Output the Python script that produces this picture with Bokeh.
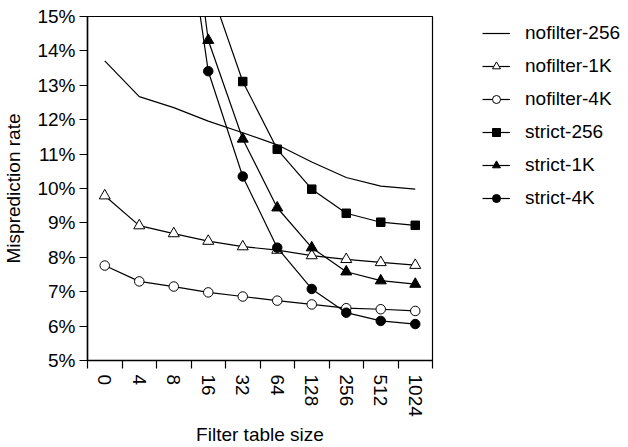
from bokeh.plotting import figure
from bokeh.layouts import row
from bokeh.models import FixedTicker, Legend, LegendItem, Range1d
from bokeh.embed import file_html
from bokeh.resources import INLINE

sizes = ["0", "4", "8", "16", "32", "64", "128", "256", "512", "1024"]
yticks = [5, 6, 7, 8, 9, 10, 11, 12, 13, 14, 15]

nofilter_256 = [13.71, 12.67, 12.35, 11.96, 11.62, 11.27, 10.77, 10.32, 10.07, 9.98]
nofilter_1k = [9.79, 8.92, 8.69, 8.47, 8.31, 8.21, 8.05, 7.94, 7.85, 7.77]
nofilter_4k = [7.76, 7.30, 7.15, 6.98, 6.86, 6.74, 6.63, 6.52, 6.49, 6.44]

strict_256_sizes = ["16", "32", "64", "128", "256", "512", "1024"]
strict_256 = [16.0, 13.11, 11.14, 9.98, 9.28, 9.02, 8.93]
strict_1k_sizes = ["8", "16", "32", "64", "128", "256", "512", "1024"]
strict_1k = [22.0, 14.31, 11.44, 9.44, 8.28, 7.58, 7.32, 7.22]
strict_4k_sizes = ["8", "16", "32", "64", "128", "256", "512", "1024"]
strict_4k = [20.3, 13.41, 10.35, 8.28, 7.08, 6.39, 6.15, 6.06]

FONT = "Liberation Sans"
FS = "19px"
NAN = float("nan")


def xpos(labels):
    return [sizes.index(s) + 0.5 for s in labels]


p = figure(width=440, height=447, output_backend="svg", toolbar_location=None,
           x_range=Range1d(0, len(sizes)), y_range=Range1d(5, 15),
           min_border_left=85, min_border_right=8, min_border_top=16, min_border_bottom=83)
p.grid.visible = False
p.outline_line_color = "black"
p.outline_line_width = 1.2
p.background_fill_color = "white"
p.border_fill_color = "white"

# x axis
p.xaxis.ticker = FixedTicker(ticks=[i + 0.5 for i in range(len(sizes))],
                             minor_ticks=list(range(len(sizes) + 1)))
p.xaxis.major_label_overrides = {i + 0.5: s for i, s in enumerate(sizes)}
p.xaxis.major_label_orientation = "vertical"
p.xaxis.major_tick_line_color = None
p.xaxis.minor_tick_in = 0
p.xaxis.minor_tick_out = 8
p.xaxis.minor_tick_line_color = "black"
p.xaxis.minor_tick_line_width = 1.2
p.xaxis.major_label_standoff = 6
p.xaxis.axis_label = "Filter table size"
p.xaxis.axis_label_standoff = 4

# y axis
p.yaxis.ticker = FixedTicker(ticks=yticks, minor_ticks=[])
p.yaxis.major_label_overrides = {t: f"{t}%" for t in yticks}
p.yaxis.major_tick_in = 0
p.yaxis.major_tick_out = 8
p.yaxis.major_tick_line_width = 1.2
p.yaxis.major_label_standoff = 4
p.yaxis.axis_label = "Misprediction rate"
p.yaxis.axis_label_standoff = 10

for ax in (p.xaxis, p.yaxis):
    ax.axis_line_color = "black"
    ax.axis_line_width = 1.5
    ax.major_label_text_font = FONT
    ax.major_label_text_font_size = FS
    ax.major_label_text_color = "black"
    ax.axis_label_text_font = FONT
    ax.axis_label_text_font_size = FS
    ax.axis_label_text_font_style = "normal"
    ax.axis_label_text_color = "black"

# legend panel (separate figure so the legend can sit outside the plot frame)
leg = figure(width=188, height=447, output_backend="svg", toolbar_location=None,
             x_range=Range1d(0, 1), y_range=Range1d(0, 1),
             x_axis_type=None, y_axis_type=None, min_border=0)
leg.grid.visible = False
leg.outline_line_color = None
leg.background_fill_color = "white"
leg.border_fill_color = "white"

items = []

p.line(xpos(sizes), nofilter_256, line_color="black", line_width=1.2)
lr0 = leg.line([NAN], [NAN], line_color="black", line_width=1.2)
items.append(LegendItem(label="nofilter-256", renderers=[lr0]))

series = [
    ("nofilter-1K", sizes, nofilter_1k, "triangle", "white", 11, 7.5),
    ("nofilter-4K", sizes, nofilter_4k, "circle", "white", 9.5, 6.5),
    ("strict-256", strict_256_sizes, strict_256, "square", "black", 8.5, 7),
    ("strict-1K", strict_1k_sizes, strict_1k, "triangle", "black", 11, 7.5),
    ("strict-4K", strict_4k_sizes, strict_4k, "circle", "black", 9.5, 6.5),
]
for name, xs, ys, marker, fill, size, lsize in series:
    p.line(xpos(xs), ys, line_color="black", line_width=1.2)
    p.scatter(xpos(xs), ys, marker=marker, size=size, fill_color=fill,
              line_color="black", line_width=1)
    llr = leg.line([NAN], [NAN], line_color="black", line_width=1.2)
    lsr = leg.scatter([NAN], [NAN], marker=marker, size=lsize, fill_color=fill,
                      line_color="black", line_width=1)
    items.append(LegendItem(label=name, renderers=[llr, lsr]))

legend = Legend(items=items, location=(42, 151), orientation="vertical")
legend.glyph_width = 28
legend.glyph_height = 20
legend.label_height = 20
legend.spacing = 11
legend.label_standoff = 15
legend.padding = 0
legend.margin = 0
legend.border_line_color = None
legend.background_fill_alpha = 0
legend.label_text_font = FONT
legend.label_text_font_size = FS
legend.label_text_color = "black"
leg.add_layout(legend, "center")

layout = row(p, leg)
open("out.html", "w").write(file_html(layout, INLINE))
